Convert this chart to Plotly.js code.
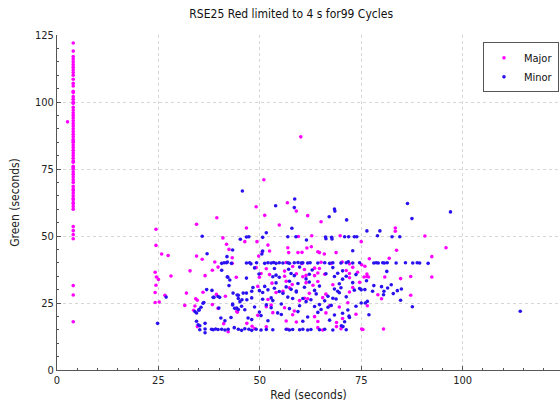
<!DOCTYPE html>
<html>
<head>
<meta charset="utf-8">
<script src="https://cdn.plot.ly/plotly-3.0.1.min.js"></script>
<style>html,body{margin:0;padding:0;background:#fff}#chart{width:560px;height:404px}</style>
</head>
<body>
<div id="chart"></div>
<script>
var chartTitle = "RSE25 Red limited to 4 s for99 Cycles";
var xTitle = "Red (seconds)";
var yTitle = "Green (seconds)";
var seriesNames = ["Major", "Minor"];

var majorX = [
4,4,4,4,4,4,4,4,4,4, 4,4,4,4,4,4,4,4,4,4, 4,4,4,4,4,4,4,4,4,4, 4,4,4,4,4,4,4,4,4,4,
4,4,4,4,4,4,4,4,4,4, 4,4,4,4,4,4,4,4,4,4, 4,4,4,4,4,4,4,4, 2.6,
60.1,51,49.1,56.8,59,51.2,61.8,65.1,54.8,39.4,
34.4,24.4,46.7,40.9,46.3,24.4,41.8,42.4,25.8,27.4,
34.4,35.8,43.2,49.3,59.5,62.8,69.8,75,52,56.9,
61.6,62.7,52.4,57.1,59.4,60.4,64.3,64.7,65.9,68.8,
49.7,50.6,83.4,83.4,90.7,95.9,83.7,77,81.9,92.4,
38.9,43.2,24.2,24.5,25,24.4,28.1,32.8,36.5,38.3,
39.7,44.2,24.2,26.6,31.9,36,39.3,41.5,24.2,25.2,
31.5,34.2,34.6,33.7,38.3,44.5,34.6,
56.5,60.4,65.1,67.6,70.3,72.1,
49.1,50.3,51.6,52.4,56.1,58.1,59,61,61.4,63.5,64.3,64.7,66,71.3,72.1,72.9,74.1,
49.9,53,56.1,56.5,58,60.6,61.4,63.5,64.3,68,72.1,74.6,
49.5,55.7,57.3,63.1,72.1,72.9,
54,61,62.2,65.5,66.3,
52,52.8,59.8,61.8,67.2,71.7,
51.6,53.2,56.1,58.5,66.3,69.6,
49.5,56.5,58.1,59,63.5,64.3,70.4,73.7,
48.7,51.6,56.9,64.3,65.5,70,75.4,
75.1,75.9,76.4,76.4,75.7,76.8,80.8,92.4,87.2,84.7,
79.1,80,87.2,76.5,75.1,80.5,68.9,68.9,41.1,46.8,
48.1,42.2,44.3,39.7,34
];
var majorY = [
18,28,31.5,49,50.5,52,53.5,60,61,62, 62.5,63.5,64,65,66,67,67.5,68.5,70,71,
72,73,74,75,75.5,76,77.5,78,79,80, 81,82,83,84,85,85.5,86,87,88,89,
90,91,92,93,94,95,96,97,98,99.5, 100,101,102,103.5,104,106,107,108.5,110,111,
112,113,114,115,116,117,119,122, 92.6,
87,71,60.9,62.4,59.3,57.7,57.6,55.3,54.1,56.8,
54.4,52.5,53,49.3,47.9,46.5,46.9,45,43.3,42.7,
42.5,41.3,41.9,47.9,49.8,50.1,50.1,47.9,46.6,45.6,
45.5,46,44.4,43.8,43.8,43.9,44.1,43.8,43.3,43.8,
42.5,44.1,53,51.8,50,45.6,44.7,41.5,41.7,42.3,
40.3,39.8,36.5,34.7,33.8,31.6,35.1,37,35.2,37.2,
38.4,34.6,28.9,27.9,28.7,29,28.2,27.5,25.2,25.4,
24.1,26.6,26,22.3,24.4,21.6,16.2,
40.1,39.7,40.2,39.8,40.3,39.6,
38.2,36.0,37.8,35.6,36.9,38.6,35.9,37.5,35.3,38.0,36.2,37.9,35.7,37.1,36.0,38.3,36.5,
34.6,32.4,35.0,33.1,31.9,34.8,32.6,35.2,33.0,31.8,34.4,32.7,
31.2,29.4,30.7,31.6,29.1,30.8,
28.9,26.8,28.6,27.0,28.3,
26.3,24.2,25.9,26.6,24.0,25.1,
23.6,21.4,23.2,22.0,21.3,23.5,
20.4,18.3,20.6,17.9,19.9,18.1,19.2,20.8,
15.5,16.1,15.2,15.8,14.9,15.4,15.1,
39.3,38.7,35.8,34.9,34.7,34.7,34.7,34.7,34.9,34.1,
28.1,26.6,27.9,24,15.3,15.3,17.7,16.2,17.3,17.4,
16.3,14.3,21.8,23,23.9
];

var minorX = [
45.7,53.9,58.6,58.5,68.4,68.5,67.1,71.4,57.9,51.6,
50.7,35.8,45.2,46.7,47.3,43.3,37,41.9,56.9,58.9,
61.5,66.2,66.3,67.7,67.8,71.9,73.3,73.9,72.9,50.7,
50.5,86.4,97,87.5,76.4,79.6,79,82.6,84.5,70.9,
71.8,
40.6,41.2,41.8,43,42,46.7,47.5,47.8,49.2,51.2,52,52.8,53.4,54,54.8,55.7,56.9,57.3,58.5,59.4,60.2,60.6,
61.8,62.4,64.3,66,67.2,68,70,71.3,72.9,74.6,78.1,78.7,79.2,80.3,80.7,81.4,83.6,85.9,87.7,88.8,89.4,91.5,
40.6,42.1,42.4,46.7,
48.7,49.8,53.6,54,57.1,57.7,59.8,62.2,62.9,66.3,68,69.2,70.4,73.7,
53.2,54,54.8,57.3,58.5,59.4,61.4,62.2,68.4,69.6,70.4,71.3,72.9,
48.3,49.9,51.2,52,53.6,54.8,56.5,57.7,59,61,63.5,64.7,68.4,69.2,70,73.3,74.6,
81.3,76.3,78.1,80,81.5,82.4,75,75.9,77.8,80.6,80.5,82.9,83.9,84.9,84.7,76.5,76,87.6,76.9,
36.9,38.2,43.4,44.7,45.9,46.7,48,26.9,38.7,40.1,45.6,46.8,48,36.2,35.5,35,34.4,39.9,43.3,44.3,45.5,46.3,47.1,48,24.8,34.4,34.8,
50.7,52.8,55.7,56.9,59,60.6,63.9,66.8,68,69.6,71.3,
50.7,51.6,53.2,55.3,58.1,59.8,61.4,62.6,64.7,66,67.6,68.8,75,
48.7,49.9,52.8,54.4,57.3,59.4,63.5,64.3,65.1,66.8,70.4,71.7,73.7,
50.3,52,55.3,60.6,61.8,67.2,68.4,70.9,72.1,
49.1,50.3,51.6,53.2,56.5,57.3,58.1,59.8,60.6,61.8,62.6,64.7,66,68,70.1,70.5,71.3,114.2,
35.2,36.5,36.5,38.1,38.5,39.1,39.7,40.6,41.4,42.2,40.4,41.4,42.9,43.7,44.7,45.5,46.3,47.3,48,35.2,
36.5,34,35,36,38.5,39.7,42,42.6,44.4,44.7,45.1,43.3,43.8,44.7,72
];
var minorY = [
66.8,61.3,63.8,60.6,60.1,59.3,57.2,56,52.9,51.2,
49.5,49.9,48.8,49.6,49.7,44.8,43.4,42.3,49.7,49.7,
48.5,49.6,49,49.5,48.9,49.7,49.7,49.7,44.5,44.4,
43.3,62.1,59,56.5,51.9,51.9,50.1,49.7,49.7,49.7,
40.4,
39.8,40,40,39.8,40.3,39.9,40,39.6,40,39.8,40,39.9,40.1,39.8,40,39.9,40,39.8,40,40.1,39.9,40,
39.9,40,39.9,40,39.8,40,39.9,40,39.9,40,39.9,40,39.9,40,39.9,40,39.9,40,39.9,40,39.9,39.8,
37.2,34.6,31.5,34.3,
38.1,35.8,37.9,35.4,37.6,36.0,38.4,35.7,37.3,35.9,38.2,36.1,37.0,35.6,
34.8,32.5,34.6,33.1,35.2,32.3,34.0,32.8,34.9,32.2,33.9,35.0,32.6,
30.8,29.6,31.2,29.9,30.5,29.3,31.0,30.1,29.5,30.9,29.7,31.3,30.2,29.4,30.7,29.8,30.4,
36.8,33.3,31.5,31.1,30.6,31.8,29.9,30,29.4,29.4,28.1,28.5,29.6,30.2,26,25.6,25,23.6,20.6,
30,29.7,28.7,27.9,28.7,28.7,29.4,27.2,27.1,27.1,26.2,26.2,26.9,25.2,23.4,22.3,21.3,23.1,24.6,23.1,23.8,22.5,19.4,18.8,17.4,18.2,16.9,
28.9,26.9,28.6,27.2,29.1,26.7,28.4,27.5,26.8,28.8,27.3,
26.4,24.3,25.9,24.6,26.7,24.0,25.5,26.2,24.4,25.8,24.1,26.5,25.0,
23.5,21.6,23.2,21.3,22.9,21.8,23.7,21.5,22.6,23.4,21.2,22.4,23.8,
20.3,18.4,20.7,18.2,19.8,18.6,20.5,18.0,19.6,
15.2,14.9,15.1,15,15.2,14.9,15.1,15,15.2,14.9,15.1,15,15.2,14.9,16.5,16.2,15,21.9,
15,15.3,13.9,15.2,15,15.3,15.1,15.2,14.9,15.2,19.4,18.4,19.6,15.8,15.2,14.8,15.4,15.2,14.8,16.5,
17.4,21.8,22.6,24.9,27.1,27.4,34.8,33.6,28,26.7,25.5,24.3,23,22.6,20.1
];

var FONT = "'DejaVu Sans Condensed', 'DejaVu Sans', sans-serif";

var traces = [
  {x: majorX, y: majorY, name: seriesNames[0], type: 'scatter', mode: 'markers',
   marker: {color: '#ff00ff', size: 3.6}},
  {x: minorX, y: minorY, name: seriesNames[1], type: 'scatter', mode: 'markers',
   marker: {color: '#2a12f0', size: 3.6}}
];

var axisCommon = {
  showgrid: true, gridcolor: '#d6d6d6', griddash: 'dot', gridwidth: 1,
  zeroline: false, showline: true, linecolor: '#555555', linewidth: 1,
  ticks: 'inside', ticklen: 4, tickcolor: '#555555', tickwidth: 1,
  tickfont: {family: FONT, size: 11, color: '#222222'},
  minor: {dtick: 5, ticks: 'inside', ticklen: 2, tickcolor: '#555555', showgrid: false},
  fixedrange: true
};

var layout = {
  width: 560, height: 404,
  margin: {l: 57, r: 0, t: 35, b: 34, pad: 0},
  paper_bgcolor: '#ffffff', plot_bgcolor: '#ffffff',
  font: {family: FONT, size: 11, color: '#222222'},
  title: {text: chartTitle, x: 0.52, xref: 'container', xanchor: 'center',
          y: 0.965, yref: 'container', yanchor: 'middle',
          font: {family: FONT, size: 12, color: '#111111'}},
  xaxis: Object.assign({}, axisCommon, {
    range: [0, 124], tick0: 0, dtick: 25,
    title: {text: xTitle, font: {family: FONT, size: 12, color: '#222222'}, standoff: 4}
  }),
  yaxis: Object.assign({}, axisCommon, {
    range: [0, 125], tick0: 0, dtick: 25,
    title: {text: yTitle, font: {family: FONT, size: 12, color: '#222222'}, standoff: 12}
  }),
  showlegend: true,
  legend: {x: 0.998, xanchor: 'right', y: 0.978, yanchor: 'top',
           bgcolor: '#ffffff', bordercolor: '#555555', borderwidth: 1,
           font: {family: FONT, size: 11, color: '#111111'},
           itemwidth: 30, tracegroupgap: 0}
};

Plotly.newPlot('chart', traces, layout, {displayModeBar: false, staticPlot: true});
</script>
</body>
</html>
